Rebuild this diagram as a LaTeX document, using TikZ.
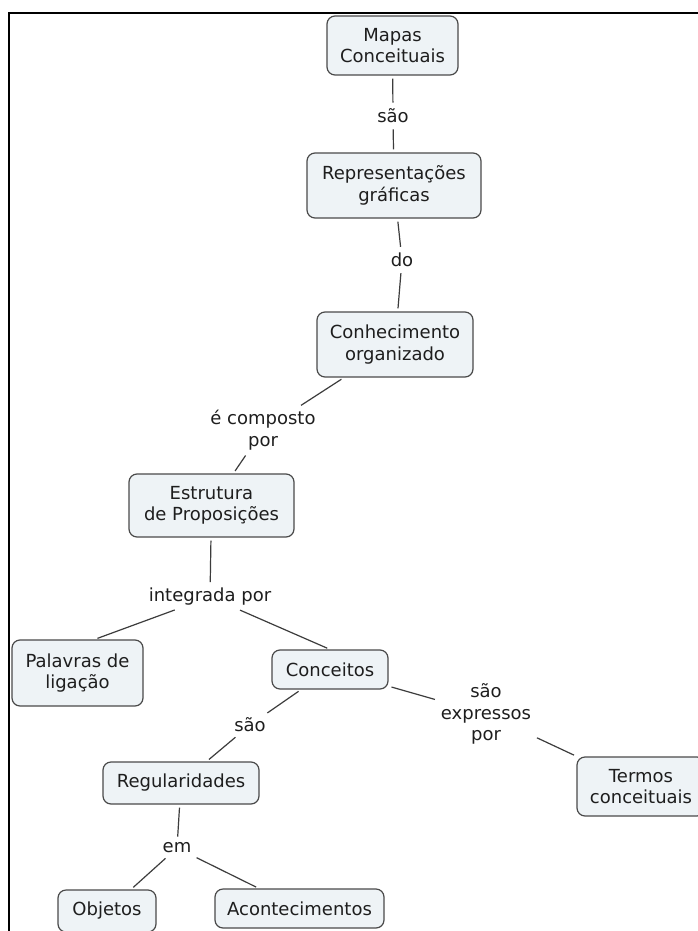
\documentclass[tikz,border=0pt]{standalone}
\usepackage{fontspec}
\setmainfont{DejaVu Sans}
\definecolor{boxfill}{HTML}{EEF3F6}
\definecolor{boxline}{HTML}{4A4A4A}
\definecolor{wire}{HTML}{3C3C3C}
\definecolor{ink}{HTML}{1E1E1E}
\begin{document}
\begin{tikzpicture}[x=1pt,y=-1pt,
  concept/.style={draw=boxline, fill=boxfill, rounded corners=8pt, line width=1.2pt,
    align=center, inner sep=0pt, text=ink, font=\fontsize{18}{21.5}\selectfont},
  linkword/.style={align=center, inner sep=3pt, text=ink, font=\fontsize{18}{21.5}\selectfont},
  conn/.style={draw=wire, line width=1.2pt, shorten <=3pt, shorten >=3pt}]
\useasboundingbox (0,0) rectangle (698,931);
\fill[white] (0,0) rectangle (698,931);

% frame along the top and left edges
\draw[black, line width=2.6pt] (698,13) -- (9,13) -- (9,931);

% concepts
\node[concept, minimum width=131pt, minimum height=59pt] (mapas) at (392.5,45.5) {Mapas\\Conceituais};
\node[concept, minimum width=174pt, minimum height=65pt] (repr) at (394,185.5) {Representações\\gráficas};
\node[concept, minimum width=156pt, minimum height=65pt] (conh) at (395,344.5) {Conhecimento\\organizado};
\node[concept, minimum width=165pt, minimum height=63pt] (estr) at (211.5,505.5) {Estrutura\\de Proposições};
\node[concept, minimum width=131pt, minimum height=66pt] (pal) at (77.5,673) {Palavras de\\ligação};
\node[concept, minimum width=116pt, minimum height=39pt] (conc) at (330,669.5) {Conceitos};
\node[concept, minimum width=156pt, minimum height=42pt] (reg) at (181,783) {Regularidades};
\node[concept, minimum width=98pt, minimum height=42pt] (obj) at (107,911) {Objetos};
\node[concept, minimum width=169pt, minimum height=39pt] (acont) at (299.5,908.5) {Acontecimentos};
\node[concept, minimum width=128pt, minimum height=59pt] (termos) at (641,786.5) {Termos\\conceituais};

% linking words
\node[linkword] (sao1) at (393,116) {são};
\node[linkword] (do) at (402,260) {do};
\node[linkword] (ecomp) at (263,430) {é composto\\por};
\node[linkword] (integ) at (210,597) {integrada por};
\node[linkword] (sao2) at (250,725) {são};
\node[linkword] (sexp) at (486,714) {são\\expressos\\por};
\node[linkword] (em) at (177,848) {em};

% connectors
\draw[conn] (mapas) -- (sao1);
\draw[conn] (sao1) -- (repr);
\draw[conn] (repr) -- (do);
\draw[conn] (do) -- (conh);
\draw[conn] (conh) -- (ecomp);
\draw[conn] (ecomp) -- (estr);
\draw[conn] (estr) -- (integ);
\draw[conn] (integ) -- (pal.63);
\draw[conn] (integ) -- (conc.north);
\draw[conn] (conc) -- (sao2);
\draw[conn] (sao2) -- (reg);
\draw[conn] (conc) -- (sexp);
\draw[conn] (sexp) -- (termos);
\draw[conn] (reg) -- (em);
\draw[conn] (em) -- (obj);
\draw[conn] (em) -- (acont);
\end{tikzpicture}
\end{document}
